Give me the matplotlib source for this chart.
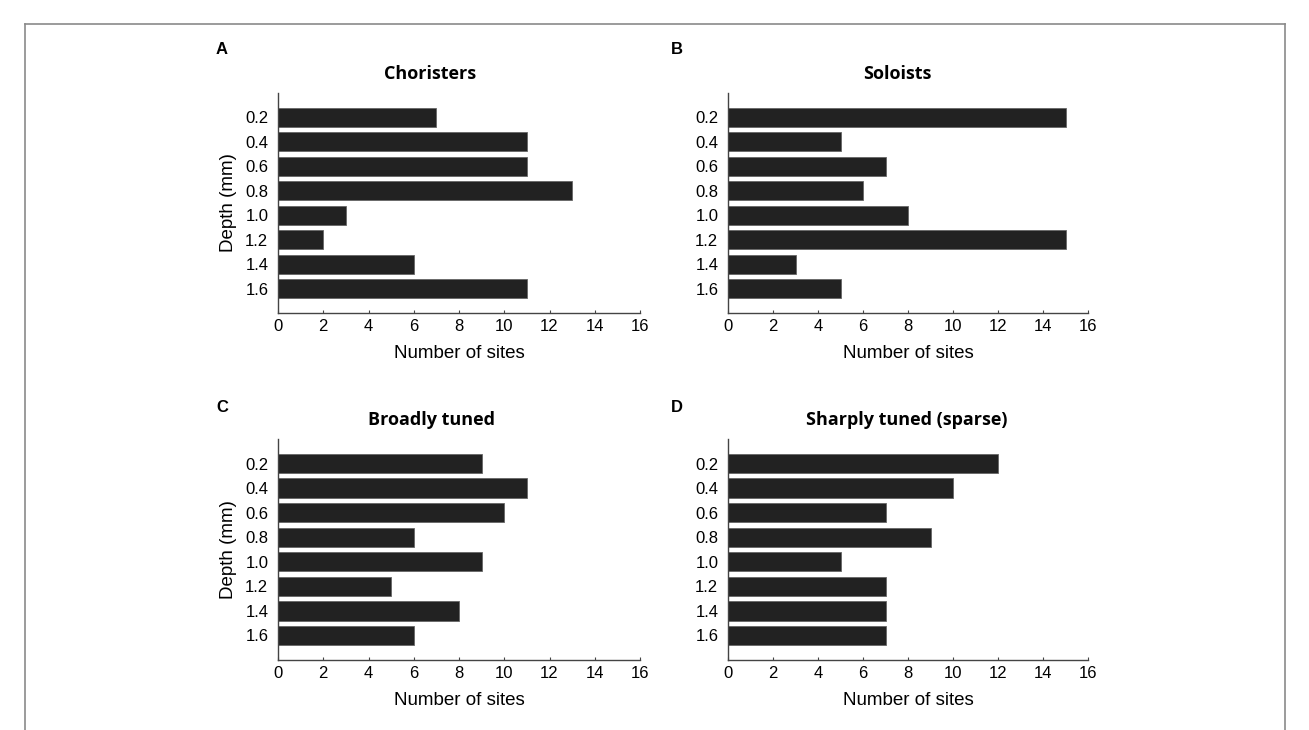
import matplotlib.pyplot as plt
from matplotlib.lines import Line2D
import numpy as np

depths = [0.2, 0.4, 0.6, 0.8, 1.0, 1.2, 1.4, 1.6]
depth_labels = ['0.2', '0.4', '0.6', '0.8', '1.0', '1.2', '1.4', '1.6']
choristers = [7, 11, 11, 13, 3, 2, 6, 11]
soloists = [15, 5, 7, 6, 8, 15, 3, 5]
broadly = [9, 11, 10, 6, 9, 5, 8, 6]
sharply = [12, 10, 7, 9, 5, 7, 7, 7]
titles = ['Choristers', 'Soloists', 'Broadly tuned', 'Sharply tuned (sparse)']
letters = ['A', 'B', 'C', 'D']
x_ticks = [0, 2, 4, 6, 8, 10, 12, 14, 16]

W, H = 1309, 730
fig = plt.figure(figsize=(W / 100, H / 100), dpi=100)
plt.rcParams['font.family'] = ['Liberation Sans', 'DejaVu Sans']

# axes boxes in pixels: left, right, top, bottom
boxes = [(278, 640, 93, 313), (728, 1088, 93, 313),
         (278, 640, 439, 660), (728, 1088, 439, 660)]
title_pos = [(430, 74), (897, 74), (432, 420), (907, 420)]
letter_pos = [(222, 50), (677, 50), (222, 407), (677, 407)]
series = [choristers, soloists, broadly, sharply]

for i in range(4):
    l, r, t, b = boxes[i]
    ax = fig.add_axes([l / W, 1 - b / H, (r - l) / W, (b - t) / H])
    ax.barh(depths, series[i], height=0.157, color='#222222',
            edgecolor='#666666', linewidth=0.6)
    ax.set_ylim(1.8, 0.0)
    ax.set_xlim(0, 16)
    ax.set_xticks(x_ticks)
    ax.set_yticks(depths)
    ax.set_yticklabels(depth_labels)
    for s in ['top', 'right']:
        ax.spines[s].set_visible(False)
    for s in ['left', 'bottom']:
        ax.spines[s].set_color('#444444')
        ax.spines[s].set_linewidth(1.0)
    ax.tick_params(axis='x', direction='in', length=2, width=0.8,
                   color='#444444', labelsize=12, pad=4)
    ax.tick_params(axis='y', length=0, labelsize=12, pad=7)
    ax.set_xlabel('Number of sites', fontsize=13.5, labelpad=8)
    if i % 2 == 0:
        ax.set_ylabel('Depth (mm)', fontsize=13.5, labelpad=6)
    tx, ty = title_pos[i]
    fig.text(tx / W, 1 - ty / H, titles[i], ha='center', va='center',
             fontsize=13, fontweight='bold', family=['Open Sans', 'DejaVu Sans'])
    lx, ly = letter_pos[i]
    fig.text(lx / W, 1 - ly / H, letters[i], ha='center', va='center',
             fontsize=12, fontweight='bold')

# surrounding frame
frame_color = '#8a8a8a'
fig.add_artist(Line2D([25 / W, 25 / W], [0, 1 - 24 / H], transform=fig.transFigure,
                      color=frame_color, lw=1.2))
fig.add_artist(Line2D([1285 / W, 1285 / W], [0, 1 - 24 / H], transform=fig.transFigure,
                      color=frame_color, lw=1.2))
fig.add_artist(Line2D([25 / W, 1285 / W], [1 - 24 / H, 1 - 24 / H], transform=fig.transFigure,
                      color=frame_color, lw=1.2))

plt.savefig('out.png', dpi=100)
